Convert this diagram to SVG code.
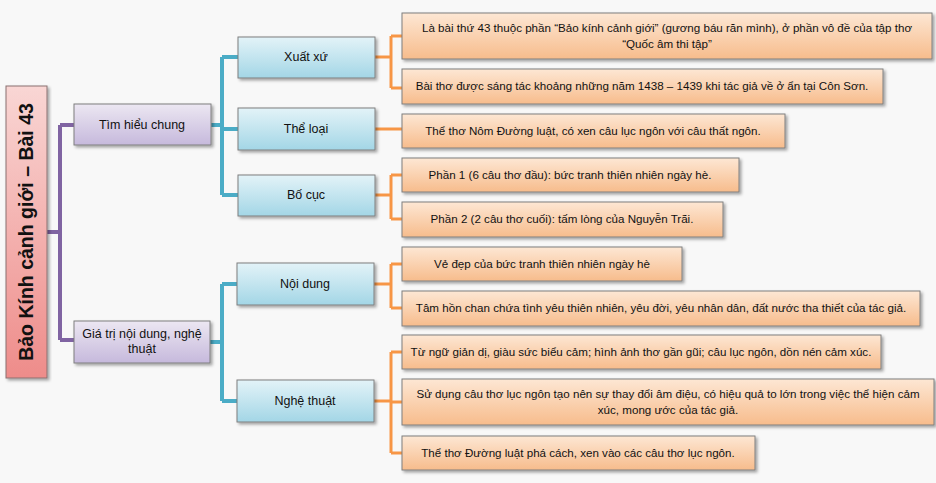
<svg xmlns="http://www.w3.org/2000/svg" width="936" height="483" viewBox="0 0 936 483">
<defs>
<linearGradient id="gRoot" x1="0" y1="0" x2="0" y2="1"><stop offset="0" stop-color="#f9d6d4"/><stop offset="1" stop-color="#ee8c8a"/></linearGradient>
<linearGradient id="gL1" x1="0" y1="0" x2="0" y2="1"><stop offset="0" stop-color="#ece7f2"/><stop offset="1" stop-color="#c6b9dc"/></linearGradient>
<linearGradient id="gL2" x1="0" y1="0" x2="0" y2="1"><stop offset="0" stop-color="#e3f3f8"/><stop offset="1" stop-color="#a3d6e6"/></linearGradient>
<linearGradient id="gLeaf" x1="0" y1="0" x2="0" y2="1"><stop offset="0" stop-color="#fde7d4"/><stop offset="1" stop-color="#f7bc8c"/></linearGradient>
<filter id="sh" x="-5%" y="-20%" width="115%" height="160%"><feDropShadow dx="2" dy="2" stdDeviation="1.5" flood-color="#000" flood-opacity="0.35"/></filter>
</defs>
<style>
.root{fill:url(#gRoot);stroke:#8a7070;stroke-width:1;filter:url(#sh)}
.l1{fill:url(#gL1);stroke:#7f7f7f;stroke-width:1;filter:url(#sh)}
.l2{fill:url(#gL2);stroke:#7f7f7f;stroke-width:1;filter:url(#sh)}
.leaf{fill:url(#gLeaf);stroke:#7f7f7f;stroke-width:1;filter:url(#sh)}
text{font-family:"Liberation Sans","Open Sans",sans-serif;fill:#111;text-anchor:middle}
.t{font-size:11.6px}
.tm{font-size:12.5px}
.tr{font-size:19.5px;font-weight:bold}
.cp{fill:none;stroke:#8064a2;stroke-width:4}
.ct{fill:none;stroke:#4bacc6;stroke-width:4}
.co{fill:none;stroke:#f79646;stroke-width:3}
</style>
<rect width="936" height="483" fill="#f8f8f8"/>
<g id="connectors">
<path class="cp" d="M47 232 H60 M60 125 V340 M60 125 H74 M60 340 H74"/>
<path class="ct" d="M211 125 H222 M222 57 V195 M222 57 H238 M222 129 H238 M222 195 H238"/>
<path class="ct" d="M210 342 H222 M222 284 V401 M222 284 H237 M222 401 H237"/>
<path class="co" d="M375 57 H391 M391 36 V88 M391 36 H403 M391 88 H403"/>
<path class="co" d="M375 129 H403"/>
<path class="co" d="M375 195 H391 M391 175 V219 M391 175 H403 M391 219 H403"/>
<path class="co" d="M374 284 H391 M391 264 V308 M391 264 H403 M391 308 H403"/>
<path class="co" d="M374 401 H391 M391 352 V453 M391 352 H403 M391 402 H403 M391 453 H403"/>
</g>
<g id="root"><rect class="root" x="6" y="86" width="41" height="292"/><text class="tr" transform="translate(33,232) rotate(-90)">Bảo Kính cảnh giới – Bài 43</text></g>
<g id="tim-hieu-chung"><rect class="l1" x="74" y="104" width="137" height="41"/><text class="tm" x="142" y="129">Tìm hiểu chung</text></g>
<g id="gia-tri"><rect class="l1" x="74" y="321" width="136" height="42"/><text class="tm" x="142" y="338">Giá trị nội dung, nghệ</text><text class="tm" x="142" y="353">thuật</text></g>
<g id="xuat-xu"><rect class="l2" x="238" y="37" width="137" height="41"/><text class="tm" x="306" y="61">Xuất xứ</text></g>
<g id="the-loai"><rect class="l2" x="238" y="108" width="137" height="42"/><text class="tm" x="306" y="133">Thể loại</text></g>
<g id="bo-cuc"><rect class="l2" x="238" y="175" width="137" height="41"/><text class="tm" x="306" y="199">Bố cục</text></g>
<g id="noi-dung"><rect class="l2" x="237" y="263" width="137" height="42"/><text class="tm" x="305" y="288">Nội dung</text></g>
<g id="nghe-thuat"><rect class="l2" x="237" y="380" width="137" height="42"/><text class="tm" x="305" y="405">Nghệ thuật</text></g>
<g id="leaf-1"><rect class="leaf" x="402" y="13" width="530" height="46"/><text class="t" x="667" y="32">Là bài thứ 43 thuộc phần “Bảo kính cảnh giới” (gương báu răn mình), ở phần vô đề của tập thơ</text><text class="t" x="667" y="48">“Quốc âm thi tập”</text></g>
<g id="leaf-2"><rect class="leaf" x="402" y="69" width="481" height="35"/><text class="t" x="642" y="90">Bài thơ được sáng tác khoảng những năm 1438 – 1439 khi tác giả về ở ẩn tại Côn Sơn.</text></g>
<g id="leaf-3"><rect class="leaf" x="402" y="114" width="383" height="34"/><text class="t" x="593" y="135">Thể thơ Nôm Đường luật, có xen câu lục ngôn với câu thất ngôn.</text></g>
<g id="leaf-4"><rect class="leaf" x="402" y="158" width="337" height="34"/><text class="t" x="570" y="179">Phần 1 (6 câu thơ đầu): bức tranh thiên nhiên ngày hè.</text></g>
<g id="leaf-5"><rect class="leaf" x="402" y="202" width="321" height="35"/><text class="t" x="562" y="223">Phần 2 (2 câu thơ cuối): tấm lòng của Nguyễn Trãi.</text></g>
<g id="leaf-6"><rect class="leaf" x="402" y="247" width="280" height="34"/><text class="t" x="542" y="268">Vẻ đẹp của bức tranh thiên nhiên ngày hè</text></g>
<g id="leaf-7"><rect class="leaf" x="402" y="291" width="518" height="35"/><text class="t" x="661" y="312">Tâm hồn chan chứa tình yêu thiên nhiên, yêu đời, yêu nhân dân, đất nước tha thiết của tác giả.</text></g>
<g id="leaf-8"><rect class="leaf" x="402" y="335" width="479" height="34"/><text class="t" x="641" y="356">Từ ngữ giản dị, giàu sức biểu cảm; hình ảnh thơ gần gũi; câu lục ngôn, dồn nén cảm xúc.</text></g>
<g id="leaf-9"><rect class="leaf" x="402" y="379" width="532" height="46"/><text class="t" x="668" y="398">Sử dụng câu thơ lục ngôn tạo nên sự thay đổi âm điệu, có hiệu quả to lớn trong việc thể hiện cảm</text><text class="t" x="668" y="414">xúc, mong ước của tác giả.</text></g>
<g id="leaf-10"><rect class="leaf" x="402" y="436" width="353" height="34"/><text class="t" x="578" y="457">Thể thơ Đường luật phá cách, xen vào các câu thơ lục ngôn.</text></g>
</svg>
